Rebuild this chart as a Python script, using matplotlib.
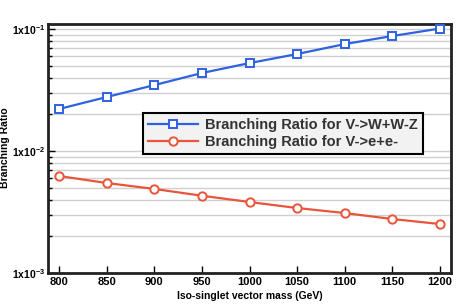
import matplotlib
matplotlib.use("Agg")
import matplotlib.pyplot as plt
from matplotlib.ticker import FixedLocator, FixedFormatter, LogLocator, NullFormatter

# masses (GeV) and branching ratios
mass = [800, 850, 900, 950, 1000, 1050, 1100, 1150, 1200]
br_wwz = [0.0221, 0.0277, 0.0347, 0.0436, 0.0526, 0.0624, 0.0753, 0.0877, 0.101]
br_ee = [0.00624, 0.00547, 0.00489, 0.0043, 0.00382, 0.00341, 0.0031, 0.00277, 0.00252]
yticks = [1e-3, 1e-2, 1e-1]
ylabels = [r"1x10$^{-3}$", r"1x10$^{-2}$", r"1x10$^{-1}$"]

plt.rcParams['font.family'] = ['Liberation Sans', 'DejaVu Sans']
plt.rcParams['mathtext.default'] = 'regular'

fig = plt.figure(figsize=(4.63, 3.04), dpi=100)
ax = fig.add_axes([48/463, 1 - 273/304, 403/463, 249/304])

ax.plot(mass, br_wwz, color='#2f62e0', lw=1.6, marker='s', ms=5.5,
        mfc='white', mew=1.4, label='Branching Ratio for V->W+W-Z', zorder=3)
ax.plot(mass, br_ee, color='#e8553a', lw=1.6, marker='o', ms=6,
        mfc='white', mew=1.4, label='Branching Ratio for V->e+e-', zorder=3)

ax.set_yscale('log')
ax.set_ylim(1e-3, 0.11)
ax.set_xlim(788.5, 1211.5)

ax.yaxis.set_major_locator(FixedLocator(yticks))
ax.yaxis.set_major_formatter(FixedFormatter(ylabels))
ax.yaxis.set_minor_locator(LogLocator(base=10, subs=range(2, 10)))
ax.yaxis.set_minor_formatter(NullFormatter())
ax.set_xticks(mass)

ax.grid(True, axis='y', which='both', color='#d0d0d0', lw=1)
ax.set_axisbelow(True)
ax.tick_params(direction='in', which='major', length=5, width=1, labelsize=8, pad=3)
ax.tick_params(direction='in', which='minor', length=3, width=1)
ax.tick_params(axis='x', bottom=True, top=False)
ax.tick_params(axis='y', left=True, right=False, pad=2, labelsize=7.5)
for lab in ax.get_xticklabels() + ax.get_yticklabels():
    lab.set_fontweight('bold')
for s in ax.spines.values():
    s.set_linewidth(2)
    s.set_color('#222222')

ax.set_xlabel('Iso-singlet vector mass (GeV)', fontsize=7.5, fontweight='bold', labelpad=3)
ax.set_ylabel('Branching Ratio', fontsize=7.5, fontweight='bold')
ax.yaxis.set_label_coords(-0.094, 0.502)

leg = ax.legend(loc='upper left', bbox_to_anchor=(95/403, (273-113)/249),
                fancybox=False, framealpha=1, facecolor='#f2f2f2',
                edgecolor='black', prop={'weight': 'bold', 'size': 10.5},
                handlelength=3.4, borderpad=0.35, labelspacing=0.2,
                handletextpad=0.5, borderaxespad=0)
leg.get_frame().set_linewidth(1.5)
for t in leg.get_texts():
    t.set_color('#333333')

fig.savefig('out.png', dpi=100)
